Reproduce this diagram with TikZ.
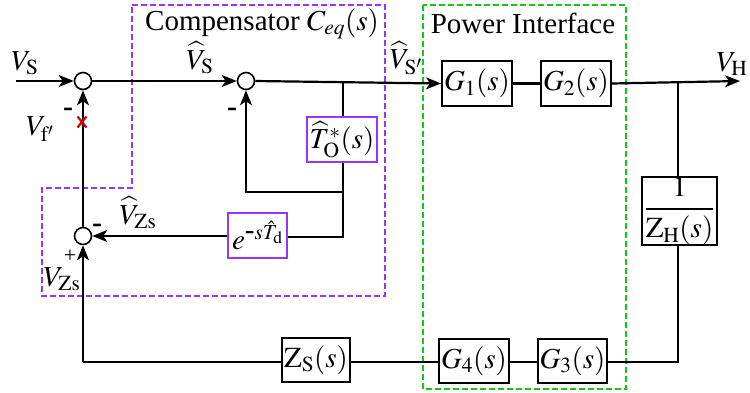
\documentclass[tikz,border=0pt]{standalone}
\usepackage{amsmath}
\usepackage{mathptmx}
\usepackage{fontspec}
\setmainfont{Liberation Serif}
\usetikzlibrary{arrows.meta}
\definecolor{compviolet}{RGB}{153,51,255}
\definecolor{pigreen}{RGB}{20,200,20}
\tikzset{
  blk/.style={draw=black, line width=2pt, inner sep=0pt, minimum width=70pt, minimum height=45pt, fill=white},
  pblk/.style={blk, draw=compviolet},
  sumnode/.style={circle, draw=black, line width=1.6pt, minimum size=17pt, inner sep=0pt, fill=white},
  wire/.style={line width=2.2pt, draw=black},
  arr/.style={wire, -{Stealth[length=15pt,width=12pt,inset=4pt]}},
  lbl/.style={inner sep=0pt},
  sgn/.style={inner sep=0pt, font=\fontsize{30}{32}\selectfont\bfseries}
}
\begin{document}
\begin{tikzpicture}[x=1pt,y=-1pt, font=\fontsize{29}{32}\selectfont]
\useasboundingbox (0,0) rectangle (750,392);
% dashed regions
\draw[compviolet, line width=1.8pt, dash pattern=on 6pt off 3pt]
  (132,5) -- (385,5) -- (385,296) -- (42,296) -- (42,188) -- (132,188) -- cycle;
\draw[pigreen, line width=1.8pt, dash pattern=on 6pt off 3pt]
  (423,5) rectangle (626,389);
\node[lbl] (comp) at (262,24) {Compensator $C_{eq}(s)$};
\node[lbl] (pi) at (523,23) {Power Interface};
% summing junctions
\node[sumnode] (c1) at (83,81) {};
\node[sumnode] (c2) at (246,81) {};
\node[sumnode] (c3) at (83,236) {};
% blocks
\node[pblk, minimum width=70pt, minimum height=45pt] (T) at (342,139.5) {$\widehat{T}^{*}_{\mathrm{O}}(s)$};
\node[pblk, minimum width=59pt, minimum height=45pt] (E) at (257.5,235.5) {$e^{\mbox{-}s\hat{T}_{\mathrm{d}}}$};
\node[blk] (G1) at (477,83.5) {$G_1(s)$};
\node[blk] (G2) at (576,83.5) {$G_2(s)$};
\node[blk, minimum width=75pt, minimum height=66pt] (ZH) at (679.5,211) {$\genfrac{}{}{2pt}{0}{1}{\mathrm{Z}_{\mathrm{H}}(s)}$};
\node[blk, minimum width=68pt, minimum height=44pt] (ZS) at (316,360) {$\mathrm{Z}_{\mathrm{S}}(s)$};
\node[blk, minimum width=70pt, minimum height=44pt] (G4) at (474,361) {$G_4(s)$};
\node[blk, minimum width=69pt, minimum height=44pt] (G3) at (572.5,361) {$G_3(s)$};
% coordinates
\coordinate (in) at (16,81);
\coordinate (out) at (740,81);
\coordinate (b1) at (343,81);
\coordinate (j1) at (343,192);
\coordinate (j2) at (343,237);
\coordinate (bl) at (83,362);
\coordinate (br) at (678,362);
\coordinate (tr) at (678,81);
% connectors
\draw[arr] (in) -- (c1.west);
\draw[arr] (c1.east) -- (c2.west);
\draw[arr] (c2.east) -- (G1.west);
\draw[wire] (G1.east) -- (G2.west);
\draw[arr] (G2.east) -- (out);
\draw[wire] (b1) -- (b1 |- T.north);
\draw[wire] (b1 |- T.south) -- (j1) -- (j2) -- (E.east |- j2);
\draw[arr] (j1) -| (c2.south);
\draw[arr] (E.west |- c3) -- (c3.east);
\draw[arr] (c3.north) -- (c1.south);
\draw[arr] (bl) -- (c3.south);
\draw[wire] (bl) -- (ZS.west |- bl);
\draw[wire] (ZS.east |- bl) -- (G4.west |- bl);
\draw[wire] (G4.east |- bl) -- (G3.west |- bl);
\draw[wire] (G3.east |- bl) -- (br) -- (br |- ZH.south);
\draw[wire] (tr |- ZH.north) -- (tr);
% labels
\node[lbl] (lVS) at (25,63) {$V_{\mathrm{S}}$};
\node[lbl] (lVSh) at (200,58) {$\widehat{V}_{\mathrm{S}}$};
\node[lbl] (lVSp) at (406,58) {$\widehat{V}_{\mathrm{S}'}$};
\node[lbl] (lVH) at (732,64) {$V_{\mathrm{H}}$};
\node[lbl] (lVf) at (40,129) {$V_{\mathrm{f}'}$};
\node[lbl] (lVZh) at (138,213) {$\widehat{V}_{\mathrm{Zs}}$};
\node[lbl] (lVZ) at (62,279) {$V_{\mathrm{Zs}}$};
\node[sgn] (m1) at (68,112) {-};
\node[sgn] (m2) at (232,112) {-};
\node[sgn] (m3) at (97,228) {-};
\node[sgn, font=\fontsize{22}{24}\selectfont] (p3) at (70,256) {+};
% red cross
\draw[red!80!black, line width=2.2pt] (77.5,116.5) -- (86.5,127.5) (86.5,116.5) -- (77.5,127.5);
\end{tikzpicture}
\end{document}
